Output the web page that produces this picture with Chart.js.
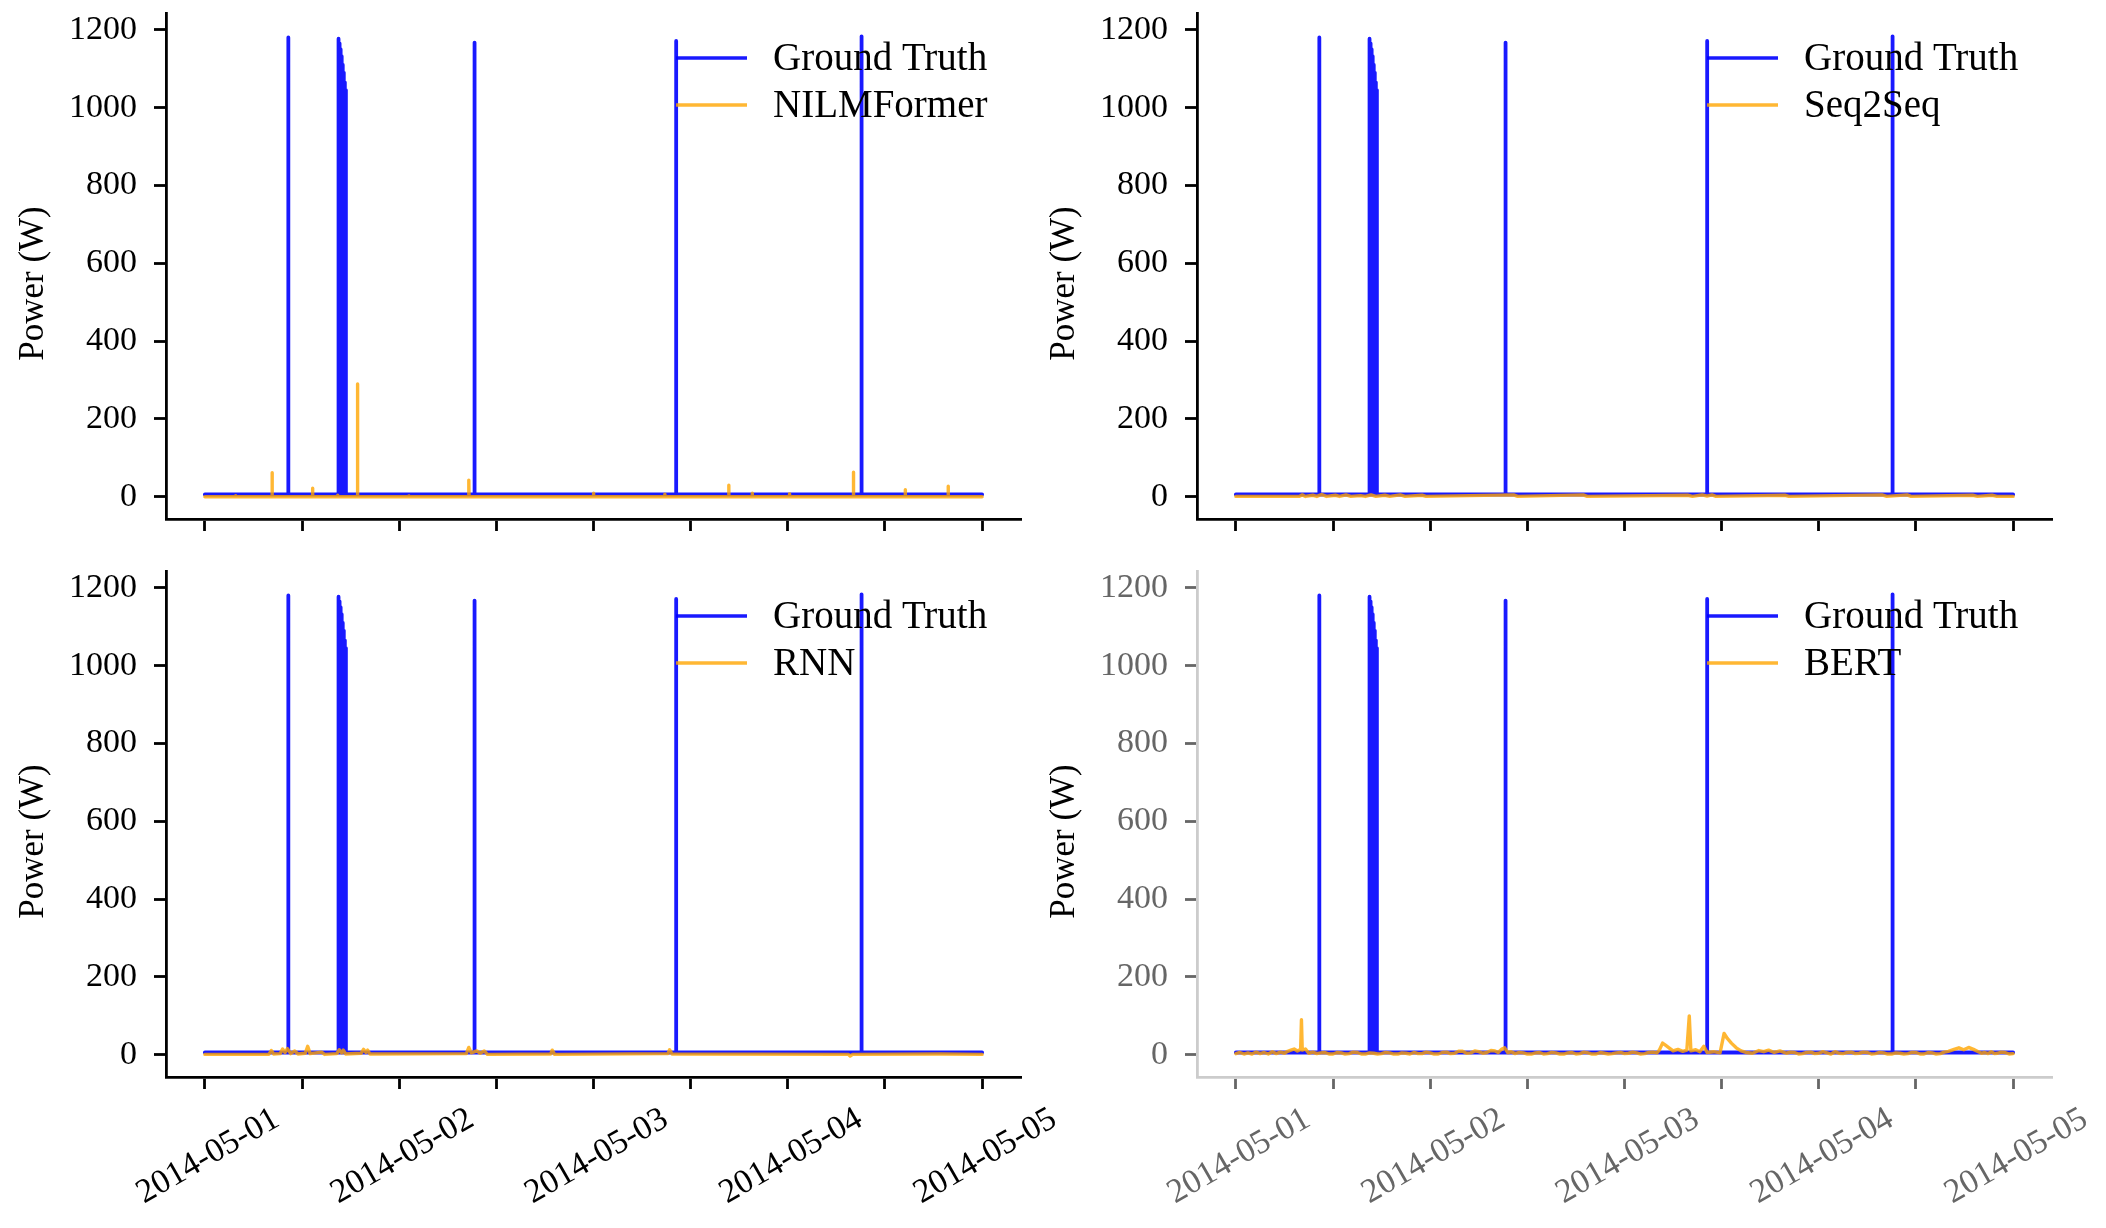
<!DOCTYPE html>
<html>
<head>
<meta charset="utf-8">
<title>Ground Truth vs NILM models</title>
<script src="https://cdn.jsdelivr.net/npm/chart.js@4.4.1/dist/chart.umd.min.js"></script>
<style>
    html, body { margin: 0; padding: 0; background: #fff; }
    #wrap { position: relative; width: 2106px; height: 1228px; overflow: hidden; }
    #wrap canvas { position: absolute; }
</style>
</head>
<body>
<div id="wrap">
    <canvas id="nilmChart" width="1060" height="560" style="left:0;top:0"></canvas>
    <canvas id="seqChart" width="1075" height="560" style="left:1031px;top:0"></canvas>
    <canvas id="rnnChart" width="1060" height="668" style="left:0;top:560px"></canvas>
    <canvas id="bertChart" width="1075" height="668" style="left:1031px;top:560px"></canvas>
</div>
<script>
// x = hours since 2014-05-01 00:00, y = watts
const xTickHours = [0, 12, 24, 36, 48, 60, 72, 84, 96];
const dayLabels = ['2014-05-01', '2014-05-02', '2014-05-03', '2014-05-04', '2014-05-05'];
const yTicks = [0, 200, 400, 600, 800, 1000, 1200];

const groundTruth = [
    [0, 6], [10.3, 6], [10.3, 1180], [10.32, 6],
    [16.5, 6], [16.5, 1177], [16.52, 6], [16.63, 6], [16.63, 1165], [16.65, 6],
    [16.76, 6], [16.76, 1150], [16.78, 6], [16.89, 6], [16.89, 1132], [16.91, 6],
    [17.02, 6], [17.02, 1110], [17.04, 6], [17.15, 6], [17.15, 1090], [17.17, 6],
    [17.28, 6], [17.28, 1065], [17.3, 6], [17.41, 6], [17.41, 1045], [17.43, 6],
    [33.3, 6], [33.3, 1167], [33.32, 6],
    [58.2, 6], [58.2, 1171], [58.22, 6],
    [81.1, 6], [81.1, 1183], [81.12, 6],
    [96, 6]
];

const nilmformer = [
    [0, 0], [3.8, 0], [3.8, 3], [3.82, 0], [8.3, 0], [8.3, 62], [8.33, 0],
    [13.3, 0], [13.3, 22], [13.33, 0], [16.4, 0], [16.4, 4], [16.42, 0],
    [18.85, 0], [18.85, 290], [18.88, 0], [25.2, 0], [25.2, 2], [25.22, 0],
    [32.6, 0], [32.6, 43], [32.63, 0], [48.0, 0], [48.0, 9], [48.03, 0],
    [56.8, 0], [56.8, 7], [56.83, 0], [64.7, 0], [64.7, 30], [64.73, 0],
    [67.6, 0], [67.6, 9], [67.63, 0], [72.2, 0], [72.2, 8], [72.23, 0],
    [80.1, 0], [80.1, 63], [80.13, 0], [86.5, 0], [86.5, 18], [86.53, 0],
    [91.8, 0], [91.8, 27], [91.83, 0], [96, 0]
];

const seq2seq = [
    [0, 1], [7.8, 1], [8.2, 5], [8.6, 1], [9.5, 4], [10.0, 1], [10.6, 6], [11.2, 1],
    [12.3, 4], [12.8, 1], [13.6, 5], [14.2, 1], [15.4, 3], [16.0, 1], [16.7, 5], [17.3, 1],
    [18.4, 4], [19.0, 1], [20.3, 5], [20.9, 1], [23.0, 4], [23.5, 1], [34.3, 5], [34.8, 1],
    [42.9, 5], [43.4, 1], [55.8, 4], [56.4, 1], [57.6, 5], [58.2, 2], [58.8, 5], [59.3, 1],
    [67.8, 4], [68.3, 1], [79.8, 5], [80.4, 1], [82.9, 5], [83.4, 1], [91.0, 4], [91.6, 1],
    [93.4, 4], [94.0, 1], [96, 1]
];

const rnn = [
    [0, 1], [7.9, 1], [8.2, 11], [8.5, 2], [9.3, 3], [9.6, 15], [9.9, 6], [10.2, 16],
    [10.6, 3], [11.1, 10], [11.5, 2], [12.4, 4], [12.7, 22], [13.0, 3], [14.4, 7], [14.8, 1],
    [16.3, 3], [16.6, 13], [16.9, 5], [17.1, 12], [17.4, 2], [19.3, 4], [19.6, 14], [19.9, 6],
    [20.1, 12], [20.4, 2], [32.3, 3], [32.6, 19], [32.9, 5], [33.6, 10], [34.0, 4], [34.5, 10],
    [34.9, 1], [42.7, 2], [42.9, 12], [43.2, 1], [57.2, 3], [57.4, 13], [57.7, 2],
    [79.5, 1], [79.7, -3], [80.0, 1], [90.9, 2], [96, 1]
];

const bert = [
    [0, 3], [0.5, 6], [1, 2], [1.5, 5], [2, 2], [2.5, 7], [3, 3], [3.5, 6], [4, 2], [4.5, 8],
    [5, 3], [5.5, 7], [6, 4], [6.4, 9], [6.8, 12], [7.2, 15], [7.6, 10], [8.0, 14], [8.1, 90],
    [8.2, 12], [8.6, 15], [9.0, 4], [9.5, 7], [10, 3], [10.5, 5], [11, 6], [11.5, 2], [12, 2],
    [12.5, 6], [13, 5], [13.5, 2], [14, 3], [14.5, 7], [15, 6], [15.5, 2], [16, 2], [16.5, 5],
    [17, 4], [17.5, 2], [18, 3], [18.5, 6], [19, 5], [19.5, 2], [20, 2], [20.5, 5], [21, 4],
    [21.5, 2], [22, 6], [22.5, 3], [23, 3], [23.5, 7], [24, 5], [24.5, 2], [25, 2], [25.5, 6],
    [26, 7], [26.5, 3], [27, 4], [27.5, 9], [28, 9], [28.5, 4], [29, 5], [29.5, 10], [30, 8],
    [30.5, 4], [31, 6], [31.5, 11], [32, 10], [32.4, 6], [32.8, 14], [33.2, 18], [33.6, 5],
    [34.0, 8], [34.5, 3], [35.0, 6], [35.5, 5], [36.0, 2], [36.5, 2], [37.0, 5], [37.5, 6],
    [38.0, 2], [38.5, 3], [39.0, 6], [39.5, 5], [40.0, 2], [40.5, 2], [41.0, 5], [41.5, 6],
    [42.0, 2], [42.5, 3], [43.0, 7], [43.5, 5], [44.0, 2], [44.5, 2], [45.0, 6], [45.5, 4],
    [46.0, 2], [46.5, 3], [47.0, 5], [47.5, 6], [48.0, 3], [48.5, 4], [49.0, 7], [49.5, 5],
    [50.0, 2], [50.5, 3], [51.0, 6], [51.5, 7], [52.0, 5], [52.3, 12], [52.7, 30], [53.1, 24],
    [53.5, 18], [54.0, 10], [54.6, 14], [55.2, 9], [55.7, 12], [56.0, 100], [56.2, 10],
    [56.8, 13], [57.3, 8], [57.8, 22], [58.2, 6], [59.0, 8], [59.8, 5], [60.3, 55], [60.7, 42],
    [61.2, 30], [61.8, 18], [62.4, 10], [63.0, 6], [63.8, 4], [64.6, 11], [65.2, 8], [65.8, 12],
    [66.5, 6], [67.2, 10], [68.0, 4], [68.5, 7], [69, 6], [69.5, 2], [70, 3], [70.5, 6], [71, 7],
    [71.5, 3], [72, 4], [72.5, 8], [73, 5], [73.5, 2], [74, 8], [74.5, 4], [75, 3], [75.5, 6],
    [76, 7], [76.5, 3], [77, 4], [77.5, 7], [78, 6], [78.5, 2], [79, 3], [79.5, 6], [80, 5],
    [80.5, 2], [81, 2], [81.5, 5], [82, 4], [82.5, 2], [83, 3], [83.5, 6], [84, 6], [84.5, 2],
    [85, 2], [85.5, 6], [86, 5], [86.5, 2], [87, 3], [87.5, 7], [88, 9], [88.7, 14], [89.3, 18],
    [89.9, 13], [90.5, 19], [91.1, 14], [91.7, 8], [92.1, 4], [92.5, 6], [92.9, 3], [93.3, 8],
    [93.7, 3], [94.1, 4], [94.5, 7], [95, 6], [95.5, 2], [96, 3]
];

const GT_COLOR = 'rgba(0, 0, 255, 0.9)';
const PRED_COLOR = 'rgba(255, 165, 0, 0.8)';

Chart.defaults.font.family = '"Liberation Serif", "Times New Roman", serif';

// legend drawn inside the plot, top right, no frame (like matplotlib frameon=False)
const insetLegend = {
    id: 'insetLegend',
    afterDatasetsDraw(chart) {
        const { ctx, chartArea } = chart;
        ctx.save();
        ctx.font = '39px "Liberation Serif", serif';
        ctx.textBaseline = 'middle';
        ctx.textAlign = 'left';
        chart.data.datasets.forEach((ds, i) => {
            const y = chartArea.top + 45 + i * 47;
            ctx.strokeStyle = ds.borderColor;
            ctx.lineWidth = 3.6;
            ctx.beginPath();
            ctx.moveTo(chartArea.right - 345, y);
            ctx.lineTo(chartArea.right - 274, y);
            ctx.stroke();
            ctx.fillStyle = '#000';
            ctx.fillText(ds.label, chartArea.right - 248, y + 2);
        });
        ctx.restore();
    }
};

// keep the plot box exactly where the axes sit, ignore label overhang
function lockPadding(axis) {
    axis.paddingTop = 0;
    axis.paddingBottom = 0;
    axis.paddingLeft = 0;
    axis.paddingRight = 0;
}

function makeChart(id, modelName, modelData, cfg) {
    const axisColor = cfg.muted ? '#cccccc' : '#000000';
    const markColor = cfg.muted ? '#666666' : '#000000';

    return new Chart(document.getElementById(id), {
        type: 'line',
        data: {
            datasets: [
                { label: 'Ground Truth', data: groundTruth, borderColor: GT_COLOR, borderWidth: 3.8,
                  pointRadius: 0, tension: 0, borderJoinStyle: 'round', borderCapStyle: 'round', order: 2 },
                { label: modelName, data: modelData, borderColor: PRED_COLOR, borderWidth: 3.4,
                  pointRadius: 0, tension: 0, borderJoinStyle: 'round', borderCapStyle: 'round', order: 1 }
            ]
        },
        options: {
            responsive: false,
            animation: false,
            devicePixelRatio: 1,
            events: [],
            layout: {
                autoPadding: false,
                padding: { top: cfg.padTop, right: cfg.padRight, left: 0, bottom: 0 }
            },
            plugins: { legend: { display: false }, tooltip: { enabled: false } },
            scales: {
                x: {
                    type: 'linear',
                    min: -4.8,
                    max: 100.8,
                    afterBuildTicks: axis => { axis.ticks = xTickHours.map(v => ({ value: v })); },
                    afterFit: axis => { axis.height = cfg.xHeight; lockPadding(axis); },
                    grid: { display: true, drawOnChartArea: false, drawTicks: true,
                            tickLength: 12, tickWidth: 2.8, tickColor: markColor },
                    border: { display: true, color: axisColor, width: 2.8 },
                    ticks: {
                        display: cfg.dates,
                        autoSkip: false,
                        minRotation: 30,
                        maxRotation: 30,
                        padding: 10,
                        labelOffset: 72,
                        color: markColor,
                        font: { size: 34 },
                        callback: v => (v % 24 === 0 ? dayLabels[v / 24] : '')
                    }
                },
                y: {
                    min: -57,
                    max: 1243,
                    afterBuildTicks: axis => { axis.ticks = yTicks.map(v => ({ value: v })); },
                    afterFit: axis => { axis.width = 166; lockPadding(axis); },
                    grid: { display: true, drawOnChartArea: false, drawTicks: true,
                            tickLength: 12, tickWidth: 2.8, tickColor: markColor },
                    border: { display: true, color: axisColor, width: 2.8 },
                    ticks: { padding: 17, color: markColor, font: { size: 34 }, callback: v => String(v) },
                    title: {
                        display: true,
                        text: 'Power (W)\u2002\u2002',
                        color: '#000',
                        font: { size: 35 },
                        padding: { top: 13, bottom: 0 }
                    }
                }
            }
        },
        plugins: [insetLegend]
    });
}

document.addEventListener('DOMContentLoaded', function() {
    // top row: shared x axis, tick marks only
    makeChart('nilmChart', 'NILMFormer', nilmformer, { padTop: 13, padRight: 39, xHeight: 41, dates: false });
    makeChart('seqChart', 'Seq2Seq', seq2seq, { padTop: 13, padRight: 54, xHeight: 41, dates: false });
    // bottom row: date labels, the BERT panel has the light grey axes
    makeChart('rnnChart', 'RNN', rnn, { padTop: 11, padRight: 39, xHeight: 151, dates: true });
    makeChart('bertChart', 'BERT', bert, { padTop: 11, padRight: 54, xHeight: 151, dates: true, muted: true });
});
</script>
</body>
</html>
